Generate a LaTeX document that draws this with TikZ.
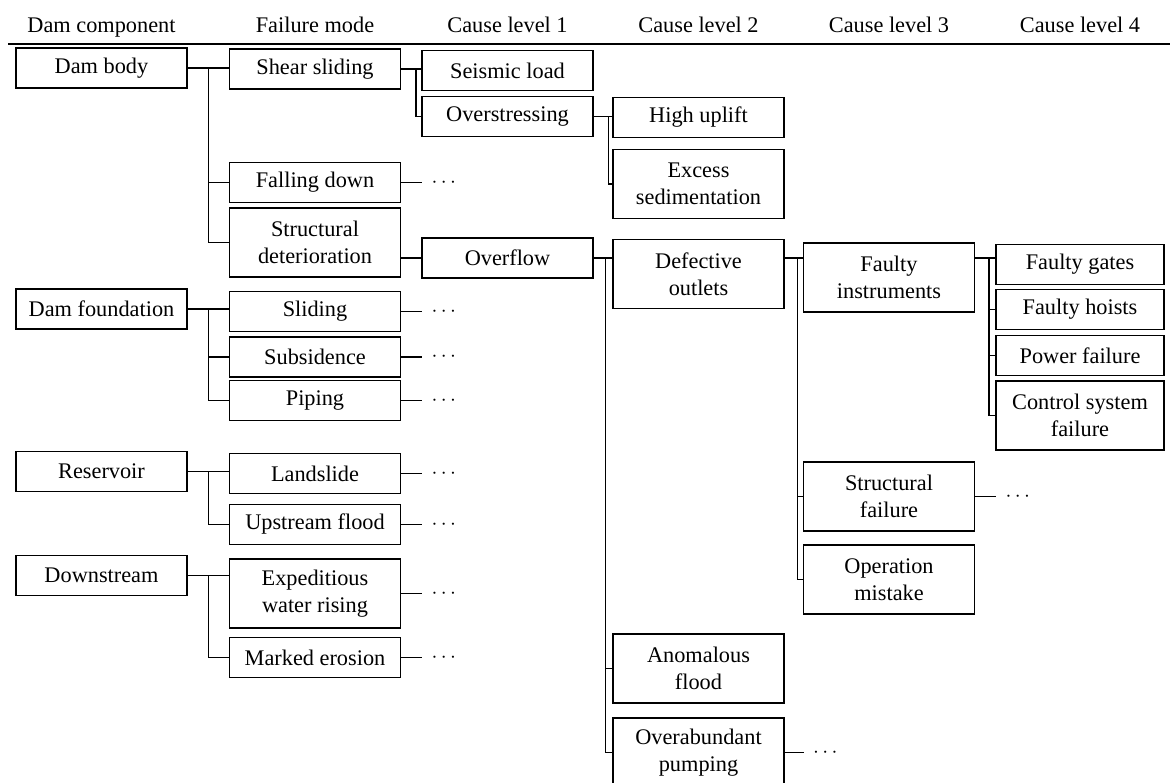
\documentclass[tikz,border=0pt]{standalone}
\usepackage{fontspec}
\setmainfont{Liberation Serif}
\tikzset{
  box/.style={draw,line width=0.7pt,minimum width=3.42cm,minimum height=0.8cm,align=center,inner sep=2pt},
  tall/.style={box,minimum height=1.38cm},
  head/.style={anchor=base,inner sep=0pt},
  more/.style={anchor=west,inner sep=0pt,xshift=5pt}
}

\begin{document}
\begin{tikzpicture}[x=0.02cm,y=-0.02cm,line width=0.7pt,font=\fontsize{12.7}{15.3}\selectfont]
\useasboundingbox (0,0) rectangle (1170,783);
% column headings
\node[head] (hA) at (101.5,33) {Dam component};
\node[head] (hB) at (315,33) {Failure mode};
\node[head] (hC) at (507.5,33) {Cause level 1};
\node[head] (hD) at (698.5,33) {Cause level 2};
\node[head] (hE) at (889,33) {Cause level 3};
\node[head] (hF) at (1080,33) {Cause level 4};
\coordinate (rule0) at (8,44);
\coordinate (rule1) at (1170,44);
\draw[line width=0.9pt] (rule0) -- (rule1);
% dam components
\node[box] (body) at (101.5,68) {Dam body};
\node[box] (found) at (101.5,309) {Dam foundation};
\node[box] (resv) at (101.5,471.5) {Reservoir};
\node[box] (down) at (101.5,575.5) {Downstream};
% failure modes
\node[box] (shear) at (315,69) {Shear sliding};
\node[box] (fall) at (315,182.5) {Falling down};
\node[tall] (sdet) at (315,242.5) {Structural\\deterioration};
\node[box] (slid) at (315,311.5) {Sliding};
\node[box] (subs) at (315,357) {Subsidence};
\node[box] (pipe) at (315,400.5) {Piping};
\node[box] (land) at (315,473.5) {Landslide};
\node[box] (upfl) at (315,524.5) {Upstream flood};
\node[tall] (expe) at (315,593.5) {Expeditious\\water rising};
\node[box] (mark) at (315,657.5) {Marked erosion};
% cause level 1
\node[box] (seis) at (507.5,70.5) {Seismic load};
\node[box] (over) at (507.5,116.5) {Overstressing};
\node[box] (ovfl) at (507.5,258) {Overflow};
% cause level 2
\node[box] (high) at (698.5,117.5) {High uplift};
\node[tall] (exse) at (698.5,184) {Excess\\sedimentation};
\node[tall] (defo) at (698.5,274) {Defective\\outlets};
\node[tall] (anom) at (698.5,668.5) {Anomalous\\flood};
\node[tall] (pump) at (698.5,752.5) {Overabundant\\pumping};
% cause level 3
\node[tall] (finst) at (889,277.5) {Faulty\\instruments};
\node[tall] (sfail) at (889,496.5) {Structural\\failure};
\node[tall] (opmis) at (889,579.5) {Operation\\mistake};
% cause level 4
\node[box,minimum width=3.36cm] (gates) at (1080,264.5) {Faulty gates};
\node[box,minimum width=3.36cm] (hoist) at (1080,309.5) {Faulty hoists};
\node[box,minimum width=3.36cm] (power) at (1080,355.5) {Power failure};
\node[tall,minimum width=3.36cm] (ctrl) at (1080,415.5) {Control system\\failure};
% tree lines
\draw (body.east) -- ++(21,0) coordinate (jbody) -- (body.east -| shear.west);
\draw (jbody) |- (fall.west);
\draw (jbody) |- (sdet.west);
\draw (found.east) -- ++(21,0) coordinate (jfound) -- (found.east -| slid.west);
\draw (jfound) |- (subs.west);
\draw (jfound) |- (pipe.west);
\draw (resv.east) -- ++(21,0) coordinate (jresv) -- (resv.east -| land.west);
\draw (jresv) |- (upfl.west);
\draw (down.east) -- ++(21,0) coordinate (jdown) -- (down.east -| expe.west);
\draw (jdown) |- (mark.west);
\draw (shear.east) -- ++(15,0) coordinate (jshear) -- (shear.east -| seis.west);
\draw (jshear) |- (over.west);
\draw (over.east) -- ++(15,0) coordinate (jover) -- (over.east -| high.west);
\draw (jover) |- (exse.west);
\draw (ovfl.west -| sdet.east) -- (ovfl.west);
\draw (ovfl.east) -- ++(12,0) coordinate (jovfl) -- (ovfl.east -| defo.west);
\draw (jovfl) |- (anom.west);
\draw (jovfl) |- (pump.west);
\draw (ovfl.east -| defo.east) -- ++(13,0) coordinate (jdefo) -- (ovfl.east -| finst.west);
\draw (jdefo) |- (sfail.west);
\draw (jdefo) |- (opmis.west);
\draw (ovfl.east -| finst.east) -- ++(14,0) coordinate (jfinst) -- (ovfl.east -| gates.west);
\draw (jfinst) |- (hoist.west);
\draw (jfinst) |- (power.west);
\draw (jfinst) |- (ctrl.west);
% branches not expanded
\draw (fall.east) -- ++(21,0) node[more] (dfall) {$\cdots$};
\draw (slid.east) -- ++(21,0) node[more] (dslid) {$\cdots$};
\draw (subs.east) -- ++(21,0) node[more] (dsubs) {$\cdots$};
\draw (pipe.east) -- ++(21,0) node[more] (dpipe) {$\cdots$};
\draw (land.east) -- ++(21,0) node[more] (dland) {$\cdots$};
\draw (upfl.east) -- ++(21,0) node[more] (dupfl) {$\cdots$};
\draw (expe.east) -- ++(21,0) node[more] (dexpe) {$\cdots$};
\draw (mark.east) -- ++(21,0) node[more] (dmark) {$\cdots$};
\draw (sfail.east) -- ++(21,0) node[more] (dsfail) {$\cdots$};
\draw (pump.east) -- ++(19,0) node[more] (dpump) {$\cdots$};
\end{tikzpicture}
\end{document}
